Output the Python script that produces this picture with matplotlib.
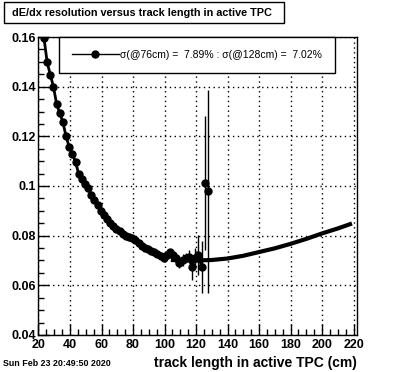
import numpy as np
import matplotlib
matplotlib.use("Agg")
import matplotlib.pyplot as plt
from matplotlib.lines import Line2D
from matplotlib.patches import Rectangle
from matplotlib.ticker import MultipleLocator

plt.rcParams['font.family'] = ['Liberation Sans', 'DejaVu Sans']

# measured resolution vs track length
track_len = [23.5, 25.5, 27.5, 29.5, 31.5, 33.5, 35.5, 37.5, 39.5, 41.5,
             43.5, 45.5, 47.5, 49.5, 51.5, 53.5, 55.5, 57.5, 59.5, 61.5,
             63.5, 65.5, 67.5, 69.5, 71.5, 73.5, 75.5, 77.5, 79.5, 81.5,
             83.5, 85.5, 87.5, 89.5, 91.5, 93.5, 95.5, 97.5, 99.5, 101.5,
             103.5, 105.5, 107.5, 109.5, 111.5, 113.5, 115.5, 117.5, 119.5, 121.5,
             123.5, 125.5, 127.5]
resolution = [0.1596, 0.1498, 0.1448, 0.1400, 0.1330, 0.1294, 0.1257, 0.1200, 0.1157, 0.1129,
              0.1098, 0.1048, 0.1030, 0.1010, 0.0990, 0.0965, 0.0943, 0.0922, 0.0900, 0.0882,
              0.0866, 0.0853, 0.0840, 0.0828, 0.0818, 0.0808, 0.0800, 0.0794, 0.0790, 0.0783,
              0.0772, 0.0760, 0.0752, 0.0746, 0.0740, 0.0733, 0.0725, 0.0717, 0.0710, 0.0722,
              0.0734, 0.0722, 0.0712, 0.0690, 0.0702, 0.0712, 0.0716, 0.0672, 0.0712, 0.0723,
              0.0674, 0.1013, 0.0978]
res_err = [0.001] * 43 + [0.0022, 0.0025, 0.002, 0.0028, 0.005, 0.004, 0.008,
                          0.0103, 0.027, 0.041]

# extrapolated curve
fit_x = [104, 110, 120, 130, 140, 150, 160, 170, 180, 190, 200, 210, 219]
fit_y = [0.0702, 0.0701, 0.0700, 0.0702, 0.0708, 0.0719, 0.0734, 0.0749,
         0.0767, 0.0787, 0.0809, 0.0829, 0.0849]

legend_text = "\u03c3(@76cm) =  7.89% : \u03c3(@128cm) =  7.02%"

fig = plt.figure(figsize=(3.96, 3.72), dpi=100)
ax = fig.add_axes([0.0972, 0.0995, 0.9008 - 0.0972, 0.9005 - 0.0995])

ax.plot(fit_x, fit_y, color='black', lw=3, solid_capstyle='butt', zorder=3)
ax.errorbar(track_len, resolution, yerr=res_err, fmt='o', color='black',
            ms=5, elinewidth=1, capsize=0, zorder=4)
# connecting line for the measured points (outliers at the end left unconnected)
ax.plot(track_len[:-2], resolution[:-2], color='black', lw=2, zorder=4)

ax.set_xlim(20, 222)
ax.set_ylim(0.04, 0.16)
ax.xaxis.set_major_locator(MultipleLocator(20))
ax.xaxis.set_minor_locator(MultipleLocator(5))
ax.yaxis.set_minor_locator(MultipleLocator(0.005))
ax.set_yticks([0.04, 0.06, 0.08, 0.1, 0.12, 0.14, 0.16])
ax.set_yticklabels(['0.04', '0.06', '0.08', '0.1', '0.12', '0.14', '0.16'])
ax.tick_params(which='both', direction='in', labelsize=9, width=1)
ax.tick_params(axis='y', pad=2)
ax.tick_params(axis='x', pad=3)
ax.tick_params(which='major', length=8)
ax.tick_params(which='minor', length=4)
for lab in ax.get_xticklabels() + ax.get_yticklabels():
    lab.set_fontweight('bold')
ax.grid(True, which='major', color='black', linestyle=(0, (1, 2.5)), lw=1)
for s in ax.spines.values():
    s.set_linewidth(1)

ax.set_xlabel("track length in active TPC (cm)", fontsize=10, fontweight='bold')
ax.xaxis.set_label_coords(1.0, -0.07)
ax.xaxis.label.set_horizontalalignment('right')

# legend box
handle = Line2D([], [], color='black', lw=1, marker='o', ms=5)
leg = ax.legend([handle], [legend_text], loc='upper left',
                bbox_to_anchor=(0.0645, 1.0), borderaxespad=0, fontsize=7.5,
                frameon=True, fancybox=False, edgecolor='black', framealpha=1,
                borderpad=1.25, handlelength=4.5, handletextpad=0.15)
leg.get_frame().set_linewidth(1)

# title box
fig.patches.append(Rectangle((3.5 / 396, 1 - 23 / 372), 280 / 396, 21 / 372,
                             transform=fig.transFigure, fill=False,
                             edgecolor='black', lw=1))
fig.text(12 / 396, 1 - 12.5 / 372,
         "dE/dx resolution versus track length in active TPC",
         fontsize=7.8, fontweight='bold', va='center', ha='left')

fig.text(3 / 396, 1 - 363 / 372, "Sun Feb 23 20:49:50 2020",
         fontsize=6.4, fontweight='bold', va='center', ha='left')

fig.savefig("out.png", dpi=100)
